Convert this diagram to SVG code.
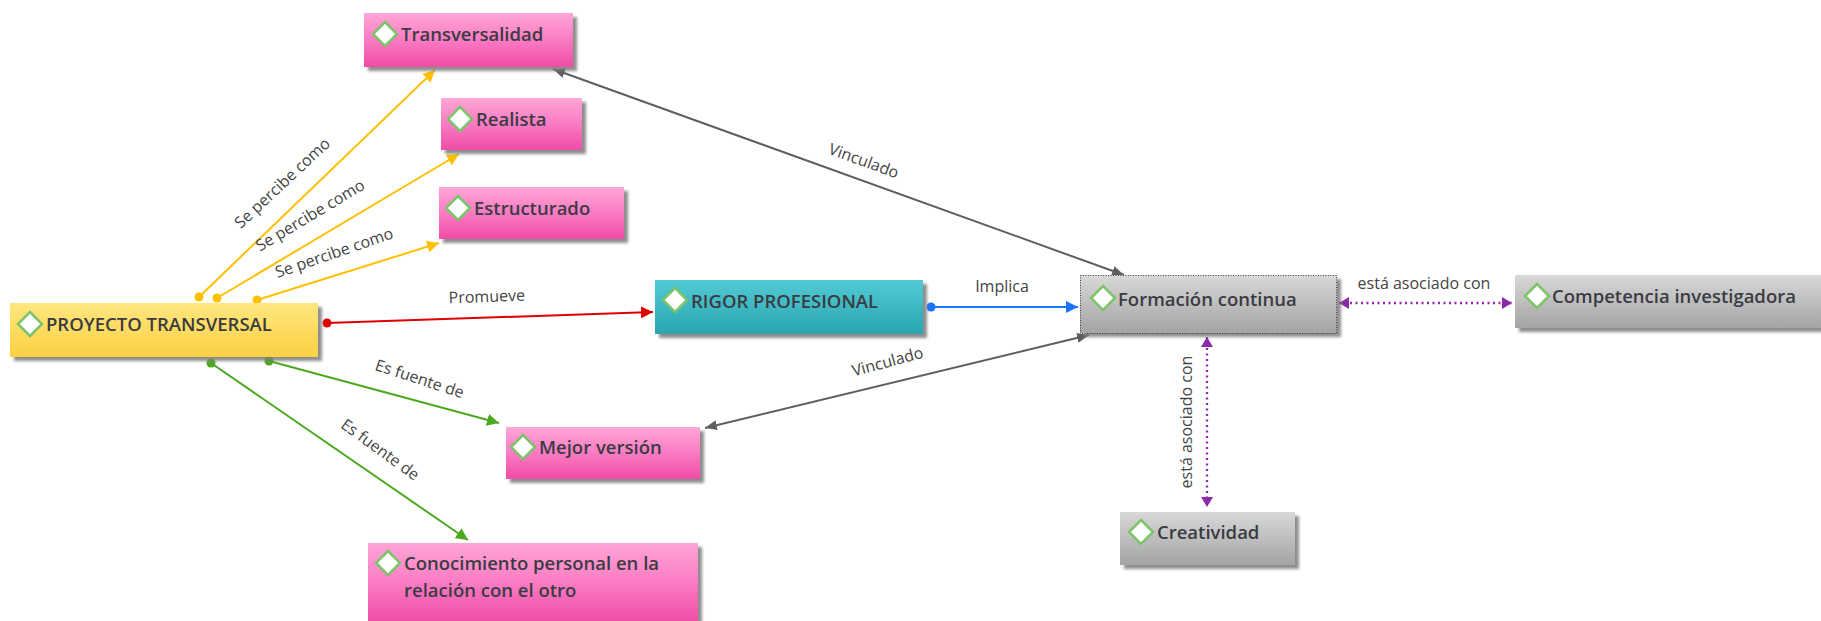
<svg xmlns="http://www.w3.org/2000/svg" width="1821" height="621" viewBox="0 0 1821 621">
  <defs>
    <linearGradient id="gPink" x1="0" y1="0" x2="0" y2="1">
      <stop offset="0" stop-color="#ffa6d6"/>
      <stop offset="0.5" stop-color="#fa7bc3"/>
      <stop offset="1" stop-color="#f04ca6"/>
    </linearGradient>
    <linearGradient id="gYellow" x1="0" y1="0" x2="0" y2="1">
      <stop offset="0" stop-color="#ffe67e"/>
      <stop offset="1" stop-color="#fbd143"/>
    </linearGradient>
    <linearGradient id="gTeal" x1="0" y1="0" x2="0" y2="1">
      <stop offset="0" stop-color="#52cad4"/>
      <stop offset="1" stop-color="#29a6b1"/>
    </linearGradient>
    <linearGradient id="gGray" x1="0" y1="0" x2="0" y2="1">
      <stop offset="0" stop-color="#d8d8d8"/>
      <stop offset="1" stop-color="#a4a4a4"/>
    </linearGradient>
    <filter id="soft" x="-10%" y="-20%" width="120%" height="140%">
      <feGaussianBlur stdDeviation="1.5"/>
    </filter>
    <!-- arrowheads -->
    <marker id="aYellow" markerUnits="userSpaceOnUse" viewBox="0 0 12 12" refX="12" refY="6" markerWidth="12" markerHeight="12" orient="auto">
      <path d="M0,0 L12,6 L0,12 Z" fill="#ffc000"/>
    </marker>
    <marker id="aGreen" markerUnits="userSpaceOnUse" viewBox="0 0 12 12" refX="12" refY="6" markerWidth="12" markerHeight="12" orient="auto">
      <path d="M0,0 L12,6 L0,12 Z" fill="#4ca91e"/>
    </marker>
    <marker id="aRed" markerUnits="userSpaceOnUse" viewBox="0 0 12 12" refX="12" refY="6" markerWidth="12" markerHeight="12" orient="auto">
      <path d="M0,0 L12,6 L0,12 Z" fill="#e00000"/>
    </marker>
    <marker id="aBlue" markerUnits="userSpaceOnUse" viewBox="0 0 12 12" refX="12" refY="6" markerWidth="12" markerHeight="12" orient="auto">
      <path d="M0,0 L12,6 L0,12 Z" fill="#1a73ff"/>
    </marker>
    <marker id="aGray" markerUnits="userSpaceOnUse" viewBox="0 0 12 10" refX="12" refY="5" markerWidth="12" markerHeight="10" orient="auto-start-reverse">
      <path d="M0,0 L12,5 L0,10 Z" fill="#5e5e5e"/>
    </marker>
    <marker id="aPurple" markerUnits="userSpaceOnUse" viewBox="0 0 10 12" refX="10" refY="6" markerWidth="10" markerHeight="12" orient="auto-start-reverse">
      <path d="M0,0 L10,6 L0,12 Z" fill="#8b2aa8"/>
    </marker>
    <!-- round start points -->
    <marker id="dYellow" markerUnits="userSpaceOnUse" viewBox="0 0 10 10" refX="5" refY="5" markerWidth="10" markerHeight="10">
      <circle cx="5" cy="5" r="4.5" fill="#ffc000"/>
    </marker>
    <marker id="dGreen" markerUnits="userSpaceOnUse" viewBox="0 0 10 10" refX="5" refY="5" markerWidth="10" markerHeight="10">
      <circle cx="5" cy="5" r="4.5" fill="#4ca91e"/>
    </marker>
    <marker id="dRed" markerUnits="userSpaceOnUse" viewBox="0 0 10 10" refX="5" refY="5" markerWidth="10" markerHeight="10">
      <circle cx="5" cy="5" r="4.5" fill="#e00000"/>
    </marker>
    <marker id="dBlue" markerUnits="userSpaceOnUse" viewBox="0 0 10 10" refX="5" refY="5" markerWidth="10" markerHeight="10">
      <circle cx="5" cy="5" r="4.5" fill="#1a73ff"/>
    </marker>
  </defs>
  <style>
    .shadow { fill: #7a7a7a; filter: url(#soft); opacity: 0.85; }
    .pink { fill: url(#gPink); }
    .yellow { fill: url(#gYellow); }
    .teal { fill: url(#gTeal); }
    .gray { fill: url(#gGray); }
    .dia { fill: #ffffff; stroke: #7cc46a; stroke-width: 2.5; }
    .nt { font-family: "Open Sans", "Liberation Sans", sans-serif; font-weight: 600; font-size: 18.5px; fill: #3b3b42; }
    .lb { font-family: "Open Sans", "Liberation Sans", sans-serif; font-size: 16px; fill: #444444; text-anchor: middle; }
    .c { fill: none; stroke-width: 2; }
    .cy { stroke: #ffc000; marker-start: url(#dYellow); marker-end: url(#aYellow); }
    .cg { stroke: #4ca91e; marker-start: url(#dGreen); marker-end: url(#aGreen); }
    .cr { stroke: #e00000; marker-start: url(#dRed); marker-end: url(#aRed); }
    .cb { stroke: #1a73ff; marker-start: url(#dBlue); marker-end: url(#aBlue); }
    .ck { stroke: #5e5e5e; marker-start: url(#aGray); marker-end: url(#aGray); }
    .cp { stroke: #8b2aa8; stroke-width: 2.3; stroke-dasharray: 2 3.5; marker-start: url(#aPurple); marker-end: url(#aPurple); }
  </style>

  <!-- connectors -->
  <g id="connectors">
    <line class="c cy" x1="199" y1="297" x2="435" y2="70"/>
    <line class="c cy" x1="217" y1="298" x2="459" y2="154"/>
    <line class="c cy" x1="257" y1="300" x2="439" y2="243"/>
    <line class="c cr" x1="327" y1="323" x2="653" y2="312"/>
    <line class="c cb" x1="931" y1="307" x2="1078" y2="307"/>
    <line class="c cg" x1="269" y1="361" x2="499" y2="423"/>
    <line class="c cg" x1="211" y1="363" x2="468" y2="540"/>
    <line class="c ck" x1="553" y1="69" x2="1124" y2="275"/>
    <line class="c ck" x1="705" y1="428" x2="1089" y2="335"/>
    <line class="c cp" x1="1339" y1="303" x2="1512" y2="303"/>
    <line class="c cp" x1="1207" y1="337" x2="1207" y2="507"/>

    <text class="lb" transform="translate(286,187) rotate(-43)">Se percibe como</text>
    <text class="lb" transform="translate(313,220) rotate(-31)">Se percibe como</text>
    <text class="lb" transform="translate(336,258) rotate(-19)">Se percibe como</text>
    <text class="lb" transform="translate(487,302) rotate(-2)">Promueve</text>
    <text class="lb" x="1002" y="292">Implica</text>
    <text class="lb" transform="translate(862,166) rotate(20)">Vinculado</text>
    <text class="lb" transform="translate(889,367) rotate(-15)">Vinculado</text>
    <text class="lb" transform="translate(418,384) rotate(18)">Es fuente de</text>
    <text class="lb" transform="translate(377,454) rotate(36)">Es fuente de</text>
    <text class="lb" x="1424" y="289">está asociado con</text>
    <text class="lb" transform="translate(1192,422) rotate(-90)">está asociado con</text>
  </g>

  <!-- nodes -->
  <g id="n-transversalidad">
    <rect class="shadow" x="368" y="17" width="209" height="54"/>
    <rect class="pink" x="364" y="13" width="209" height="54"/>
    <polygon class="dia" points="385,22 397,34 385,46 373,34"/>
    <text class="nt" x="401" y="41">Transversalidad</text>
  </g>

  <g id="n-realista">
    <rect class="shadow" x="445" y="102" width="141" height="52"/>
    <rect class="pink" x="441" y="98" width="141" height="52"/>
    <polygon class="dia" points="460,107 472,119 460,131 448,119"/>
    <text class="nt" x="476" y="126">Realista</text>
  </g>

  <g id="n-estructurado">
    <rect class="shadow" x="443" y="191" width="185" height="52"/>
    <rect class="pink" x="439" y="187" width="185" height="52"/>
    <polygon class="dia" points="458,196 470,208 458,220 446,208"/>
    <text class="nt" x="474" y="215">Estructurado</text>
  </g>

  <g id="n-proyecto">
    <rect class="shadow" x="14" y="307" width="308" height="54"/>
    <rect class="yellow" x="10" y="303" width="308" height="54"/>
    <polygon class="dia" points="30,312 42,324 30,336 18,324"/>
    <text class="nt" x="46" y="331">PROYECTO TRANSVERSAL</text>
  </g>

  <g id="n-rigor">
    <rect class="shadow" x="659" y="284" width="268" height="54"/>
    <rect class="teal" x="655" y="280" width="268" height="54"/>
    <polygon class="dia" points="675,288 687,300 675,312 663,300"/>
    <text class="nt" x="691" y="308">RIGOR PROFESIONAL</text>
  </g>

  <g id="n-formacion">
    <rect class="shadow" x="1084" y="279" width="257" height="58"/>
    <rect class="gray" x="1080" y="275" width="257" height="58"/>
    <rect x="1080.5" y="275.5" width="256" height="58" fill="none" stroke="#444" stroke-width="1" stroke-dasharray="1 1.5"/>
    <polygon class="dia" points="1103,286 1115,298 1103,310 1091,298"/>
    <text class="nt" x="1118" y="306">Formación continua</text>
  </g>

  <g id="n-competencia">
    <rect class="shadow" x="1519" y="279" width="310" height="53"/>
    <rect class="gray" x="1515" y="275" width="310" height="53"/>
    <polygon class="dia" points="1537,284 1549,296 1537,308 1525,296"/>
    <text class="nt" x="1552" y="303">Competencia investigadora</text>
  </g>

  <g id="n-creatividad">
    <rect class="shadow" x="1124" y="516" width="175" height="53"/>
    <rect class="gray" x="1120" y="512" width="175" height="53"/>
    <polygon class="dia" points="1141,520 1153,532 1141,544 1129,532"/>
    <text class="nt" x="1157" y="539">Creatividad</text>
  </g>

  <g id="n-mejor">
    <rect class="shadow" x="510" y="431" width="194" height="52"/>
    <rect class="pink" x="506" y="427" width="194" height="52"/>
    <polygon class="dia" points="523,435 535,447 523,459 511,447"/>
    <text class="nt" x="539" y="454">Mejor versión</text>
  </g>

  <g id="n-conocimiento">
    <rect class="shadow" x="372" y="547" width="330" height="80"/>
    <rect class="pink" x="368" y="543" width="330" height="80"/>
    <polygon class="dia" points="388,551 400,563 388,575 376,563"/>
    <text class="nt" x="404" y="570">Conocimiento personal en la</text>
    <text class="nt" x="404" y="597">relación con el otro</text>
  </g>
</svg>
